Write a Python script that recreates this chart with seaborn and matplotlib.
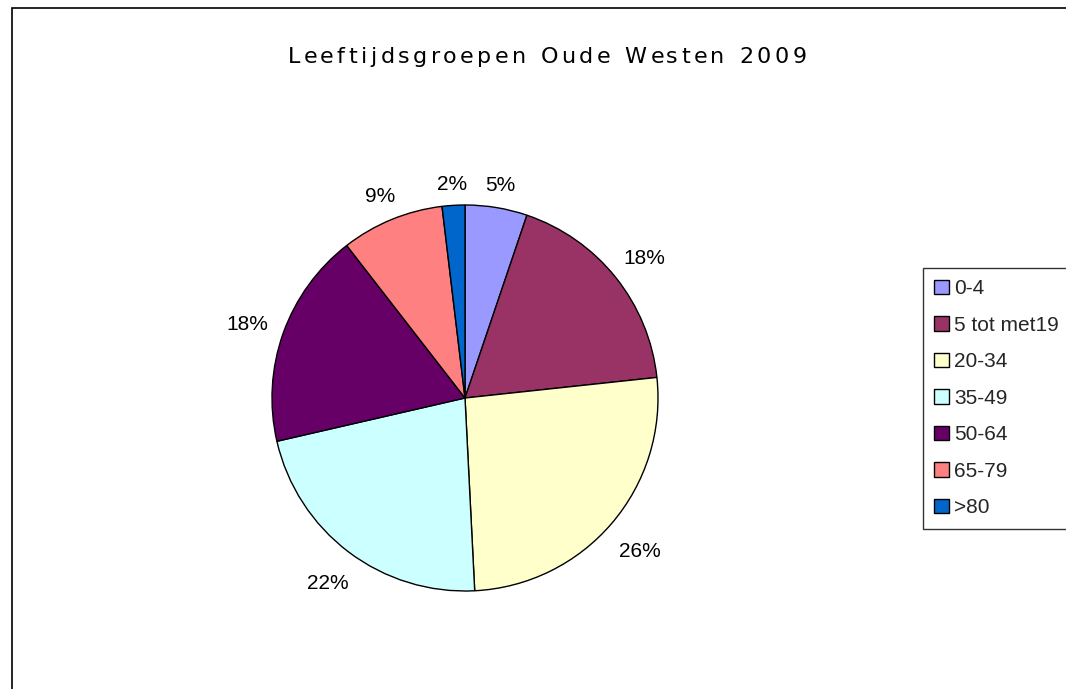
import matplotlib
matplotlib.use("Agg")
import numpy as np
import matplotlib.pyplot as plt
import seaborn as sns

# Age groups, share of population (%)
groups = ['0-4', '5 tot met19', '20-34', '35-49', '50-64', '65-79', '>80']
shares = [5.2, 18.1, 25.9, 22.2, 18.1, 8.6, 1.9]
colors = ['#9999FF', '#993366', '#FFFFCC', '#CCFFFF', '#660066', '#FF8080', '#0066CC']
title = 'Leeftijdsgroepen Oude Westen 2009'

sns.set_theme(style='white')
plt.rcParams['font.family'] = ['Liberation Sans', 'DejaVu Sans']

W, H = 1066, 689
fig = plt.figure(figsize=(W / 100, H / 100), dpi=100)
fig.patch.set_facecolor('white')
rend = fig.canvas.get_renderer()

# chart border (left and top edges visible, rest runs off the picture)
fig.add_artist(plt.Rectangle((12 / W, -0.1), 1.2, 1 - 8 / H + 0.1,
                             transform=fig.transFigure, fill=False,
                             edgecolor='black', linewidth=1.2))

# pie axes: centre (465, 398), radius 193 px
cx, cy, r = 465, 398, 193
ax = fig.add_axes([(cx - r) / W, (H - cy - r) / H, 2 * r / W, 2 * r / H])
wedges, texts, autotexts = ax.pie(
    shares, colors=colors, startangle=90, counterclock=False,
    autopct='%.0f%%', pctdistance=1.17, radius=1,
    wedgeprops=dict(edgecolor='black', linewidth=1),
    textprops=dict(fontsize=15, color='black'))
ax.set_xlim(-1, 1)
ax.set_ylim(-1, 1)
ax.set_aspect('equal')
ax.axis('off')

# push each percentage label out so its box sits a fixed gap off the rim
gap = 15
for w, t in zip(wedges, autotexts):
    ang = np.deg2rad((w.theta1 + w.theta2) / 2)
    ux, uy = np.cos(ang), np.sin(ang)
    bb = t.get_window_extent(rend)
    d = r + gap + abs(ux) * bb.width / 2 + abs(uy) * bb.height / 2
    t.set_position((ux * d / r, (uy * d - 4) / r))
    t.set_ha('center')
    t.set_va('center')

# title with extra letter spacing, as in the original
tfont, tsize, twidth, tbase = 'DejaVu Sans', 16, 519, 63
probe = fig.text(0, 0, '', fontsize=tsize, family=tfont)


def width_of(s):
    probe.set_text(s + 'x')
    return probe.get_window_extent(rend).width


wx = width_of('')
adv = [width_of(title[:k]) - wx for k in range(len(title) + 1)]
probe.remove()
track = (twidth - adv[-1]) / (len(title) - 1)
x0 = 547 - twidth / 2
for k, ch in enumerate(title):
    if ch != ' ':
        fig.text((x0 + adv[k] + k * track) / W, 1 - tbase / H, ch,
                 ha='left', va='baseline', fontsize=tsize, family=tfont,
                 color='black')

leg = fig.legend(wedges, groups, loc='upper left',
                 bbox_to_anchor=(923 / W, 1 - 268 / H),
                 bbox_transform=fig.transFigure,
                 fontsize=15, frameon=True, fancybox=False,
                 handlelength=0.7, handleheight=0.7, handletextpad=0.25,
                 labelspacing=0.84, borderpad=0.55, borderaxespad=0)
leg.get_frame().set_edgecolor('black')
leg.get_frame().set_linewidth(1)

fig.savefig('out.png', dpi=100, facecolor='white')
